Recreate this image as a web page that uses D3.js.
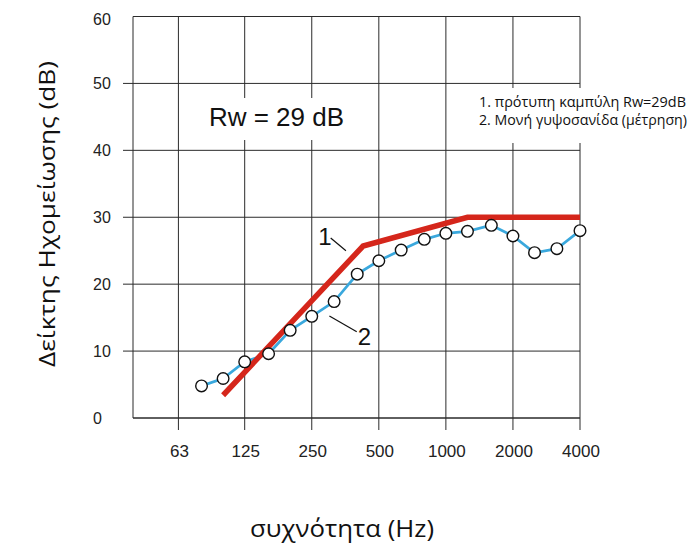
<!DOCTYPE html>
<html>
<head>
<meta charset="utf-8">
<script src="https://cdn.jsdelivr.net/npm/d3@7"></script>
<style>
  html, body { margin: 0; padding: 0; background: #fff; }
  svg { display: block; }
</style>
</head>
<body>
<div id="chart"></div>
<script>
// Third-octave band centre frequencies (Hz) of the measurement
const freqs = [80, 100, 125, 160, 200, 250, 315, 400, 500, 630, 800, 1000, 1250, 1600, 2000, 2500, 3150, 4000];
// Measured sound reduction index of the single gypsum board (dB)
const measured = [4.8, 5.9, 8.4, 9.6, 13.1, 15.2, 17.4, 21.5, 23.5, 25.1, 26.7, 27.6, 27.9, 28.8, 27.2, 24.7, 25.3, 28.0];
// Shifted reference curve, break points (Hz, dB)
const refFreqs = [100, 425, 1250, 4000];
const refValues = [3.4, 25.7, 30, 30];
// Axis ticks
const xTicks = [63, 125, 250, 500, 1000, 2000, 4000];
const xTickLabels = ["63", "125", "250", "500", "1000", "2000", "4000"];
const yTicks = [0, 10, 20, 30, 40, 50, 60];
// Legend entries
const legendLines = ["1. πρότυπη καμπύλη Rw=29dB", "2. Μονή γυψοσανίδα (μέτρηση)"];

const W = 695, H = 545;
const plotLeft = 133, plotRight = 580, plotTop = 16.5, plotBottom = 418;

const svg = d3.select("#chart").append("svg")
  .attr("width", W).attr("height", H);

const x = d3.scaleLog().domain([39.4, 4000]).range([plotLeft, plotRight]);
const y = d3.scaleLinear().domain([0, 60]).range([plotBottom, plotTop]);

const gridColor = "#2b2b2b";
const grid = svg.append("g").attr("stroke", gridColor).attr("stroke-width", 1).attr("fill", "none");

// horizontal grid lines, with short ticks to the left for inner values
grid.selectAll("line.h").data(yTicks).join("line")
  .attr("class", "h")
  .attr("x1", d => (d === 0 || d === 60) ? plotLeft : plotLeft - 10)
  .attr("x2", plotRight)
  .attr("y1", d => y(d)).attr("y2", d => y(d));

// vertical grid lines, extended below the frame as ticks
grid.selectAll("line.v").data(xTicks).join("line")
  .attr("class", "v")
  .attr("x1", d => x(d)).attr("x2", d => x(d))
  .attr("y1", plotTop).attr("y2", plotBottom + 12);

// frame
grid.append("line").attr("x1", plotLeft).attr("x2", plotLeft).attr("y1", plotTop).attr("y2", plotBottom);
grid.append("line").attr("x1", plotLeft).attr("x2", plotRight).attr("y1", plotTop).attr("y2", plotTop);
grid.append("line").attr("x1", plotLeft).attr("x2", plotRight).attr("y1", plotBottom).attr("y2", plotBottom);

// y tick labels
svg.append("g").selectAll("text").data(yTicks).join("text")
  .attr("x", 93).attr("y", d => y(d) + (d === 60 ? 2.5 : 0))
  .attr("dy", "0.36em")
  .attr("font-family", "'Liberation Sans', Arial, sans-serif")
  .attr("font-size", 16).attr("fill", "#222")
  .text(d => d);

// x tick labels
svg.append("g").selectAll("text").data(xTicks).join("text")
  .attr("x", d => x(d) + 1).attr("y", 456.5)
  .attr("text-anchor", "middle")
  .attr("font-family", "'Liberation Sans', Arial, sans-serif")
  .attr("font-size", 17).attr("fill", "#222")
  .text((d, i) => xTickLabels[i]);

// axis titles
svg.append("text")
  .attr("x", 342).attr("y", 537)
  .attr("text-anchor", "middle")
  .attr("font-family", "'Open Sans', 'Noto Sans', sans-serif")
  .attr("font-size", 23).attr("fill", "#111")
  .attr("textLength", 184).attr("lengthAdjust", "spacingAndGlyphs")
  .text("συχνότητα (Hz)");

svg.append("text")
  .attr("transform", "translate(55,214) rotate(-90)")
  .attr("text-anchor", "middle")
  .attr("font-family", "'Open Sans', 'Noto Sans', sans-serif")
  .attr("font-size", 22).attr("fill", "#111")
  .attr("textLength", 306).attr("lengthAdjust", "spacingAndGlyphs")
  .text("Δείκτης Ηχομείωσης (dB)");

// Rw label on a white patch over the grid
svg.append("rect").attr("x", 200).attr("y", 98).attr("width", 156).attr("height", 42).attr("fill", "#fff");
svg.append("text")
  .attr("x", 209).attr("y", 126)
  .attr("font-family", "'Liberation Sans', Arial, sans-serif")
  .attr("font-size", 25.5).attr("fill", "#111")
  .attr("textLength", 135).attr("lengthAdjust", "spacingAndGlyphs")
  .text("Rw = 29 dB");

// legend on a white patch
svg.append("rect").attr("x", 476).attr("y", 88).attr("width", 219).attr("height", 55).attr("fill", "#fff");
svg.append("g").selectAll("text").data(legendLines).join("text")
  .attr("x", 479).attr("y", (d, i) => 107 + i * 17.5)
  .attr("font-family", "'Open Sans', 'Noto Sans', sans-serif")
  .attr("font-size", 14.5).attr("fill", "#111")
  .attr("textLength", (d, i) => i === 0 ? 207 : 208)
  .attr("lengthAdjust", "spacingAndGlyphs")
  .text(d => d);

// measured curve (line)
const pts = freqs.map((f, i) => [f, measured[i]]);
svg.append("path")
  .datum(pts)
  .attr("fill", "none")
  .attr("stroke", "#3aa8dd")
  .attr("stroke-width", 2.7)
  .attr("d", d3.line().x(d => x(d[0])).y(d => y(d[1])));

// reference curve
const refPts = refFreqs.map((f, i) => [f, refValues[i]]);
svg.append("path")
  .datum(refPts)
  .attr("fill", "none")
  .attr("stroke", "#d5261b")
  .attr("stroke-width", 5.5)
  .attr("stroke-linejoin", "miter")
  .attr("d", d3.line().x(d => x(d[0])).y(d => y(d[1])));

// measured points
svg.append("g").selectAll("circle").data(pts).join("circle")
  .attr("cx", d => x(d[0])).attr("cy", d => y(d[1]))
  .attr("r", 5.8)
  .attr("fill", "#fff").attr("stroke", "#111").attr("stroke-width", 1.4);

// curve callouts
const callouts = [
  { label: "1", from: [304, 26.9], to: [356, 25.0], dx: 1, dy: 7, anchor: "end" },
  { label: "2", from: [300, 15.25], to: [398, 12.9], dx: 1, dy: 13, anchor: "start" }
];
const co = svg.append("g");
callouts.forEach(c => {
  co.append("line")
    .attr("x1", x(c.from[0])).attr("y1", y(c.from[1]))
    .attr("x2", x(c.to[0])).attr("y2", y(c.to[1]))
    .attr("stroke", "#111").attr("stroke-width", 1.2);
  const ax = c.anchor === "end" ? x(c.from[0]) : x(c.to[0]);
  const ay = c.anchor === "end" ? y(c.from[1]) : y(c.to[1]);
  co.append("text")
    .attr("x", ax + c.dx).attr("y", ay + c.dy)
    .attr("text-anchor", c.anchor)
    .attr("font-family", "'Liberation Sans', Arial, sans-serif")
    .attr("font-size", 24).attr("fill", "#111")
    .text(c.label);
});
</script>
</body>
</html>
